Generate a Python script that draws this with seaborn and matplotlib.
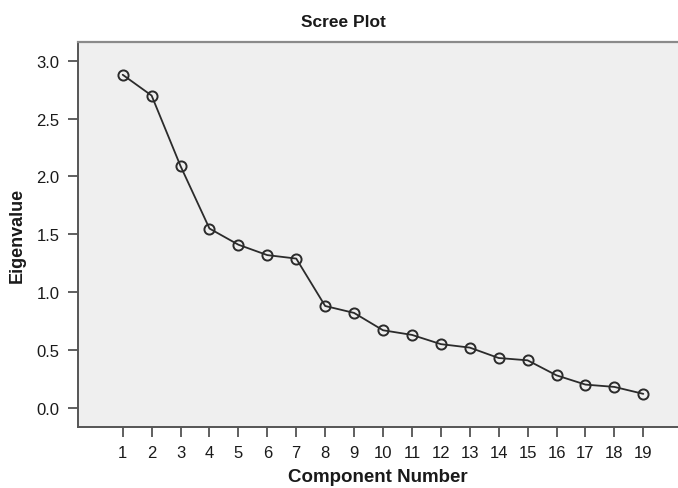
import matplotlib
matplotlib.use("Agg")
import matplotlib.pyplot as plt
import seaborn as sns
import pandas as pd

# Eigenvalues of the extracted components
components = list(range(1, 20))
eigenvalues = [2.88, 2.70, 2.09, 1.55, 1.41, 1.32, 1.29, 0.88, 0.82, 0.67,
               0.63, 0.55, 0.52, 0.43, 0.41, 0.28, 0.20, 0.18, 0.12]
y_ticks = [0.0, 0.5, 1.0, 1.5, 2.0, 2.5, 3.0]

df = pd.DataFrame({"Component Number": components, "Eigenvalue": eigenvalues})

sns.set_theme(style="ticks")
plt.rcParams["font.family"] = ["Liberation Sans", "DejaVu Sans"]

fig = plt.figure(figsize=(6.78, 4.89), dpi=100)
ax = fig.add_axes([0.1146, 0.1254, 0.8854, 0.7873])
ax.set_facecolor("#efefef")

sns.lineplot(data=df, x="Component Number", y="Eigenvalue", ax=ax,
             color="#2b2b2b", linewidth=1.3, marker="o", markersize=7.3,
             markerfacecolor="none", markeredgecolor="#2b2b2b",
             markeredgewidth=1.4)

ax.set_xlim(-0.556, 20.2)
ax.set_ylim(-0.164, 3.166)
ax.set_xticks(components)
ax.set_yticks(y_ticks)
ax.set_yticklabels([f"{v:.1f}" for v in y_ticks])

for side in ["left", "bottom"]:
    ax.spines[side].set_color("#555555")
    ax.spines[side].set_linewidth(1.4)
ax.spines["top"].set_visible(True)
ax.spines["top"].set_color("#8a8a8a")
ax.spines["top"].set_linewidth(1.6)
ax.spines["right"].set_visible(False)

ax.tick_params(axis="both", direction="out", length=7, width=1.2,
               color="#444444", labelsize=12, labelcolor="#1a1a1a", pad=6)

ax.set_xlabel("Component Number", fontsize=13.5, fontweight="bold",
              color="#1a1a1a", labelpad=6)
ax.set_ylabel("Eigenvalue", fontsize=13, fontweight="bold",
              color="#1a1a1a", labelpad=8)

fig.text(0.506, 0.955, "Scree Plot", ha="center", va="center",
         fontsize=12.5, fontweight="bold", color="#1a1a1a")

fig.savefig("out.png", dpi=100, facecolor="white")
